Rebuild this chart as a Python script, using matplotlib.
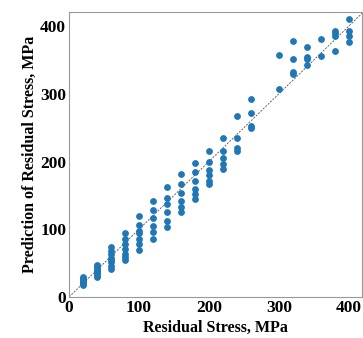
import matplotlib
matplotlib.use("Agg")
import matplotlib.pyplot as plt

actual = ([20] * 7 + [40] * 8 + [60] * 8 + [80] * 7 + [100] * 7 + [120] * 6
          + [140] * 6 + [160] * 6 + [180] * 6 + [200] * 6 + [220] * 5
          + [240] * 4 + [260] * 4 + [300] * 2 + [320] * 4 + [340] * 4
          + [360] * 2 + [380] * 4 + [400] * 4)
predicted = [18, 20, 22, 24, 26, 28, 30,
             30, 33, 36, 38, 40, 43, 46, 48,
             42, 46, 51, 55, 58, 63, 68, 74,
             54, 59, 64, 71, 79, 85, 95,
             70, 78, 85, 95, 97, 107, 120,
             86, 96, 105, 116, 129, 142,
             104, 113, 125, 137, 146, 162,
             125, 133, 142, 154, 167, 182,
             145, 152, 160, 172, 184, 198,
             167, 172, 180, 188, 200, 216,
             189, 197, 205, 216, 235,
             216, 220, 235, 267,
             250, 252, 272, 292,
             307, 357,
             330, 332, 352, 378,
             343, 352, 354, 369,
             356, 381,
             363, 386, 390, 393,
             376, 386, 393, 411]
ticks = [0, 100, 200, 300, 400]

plt.rcParams['font.family'] = ['Liberation Serif', 'DejaVu Serif']

fig = plt.figure(figsize=(3.63, 3.38), dpi=100)
ax = fig.add_axes([69 / 363, 41 / 338, 293 / 363, 285 / 338])

ax.plot([0, 420], [0, 420], linestyle='--', color='#555555', linewidth=0.6, dashes=(2.5, 1.5))
ax.scatter(actual, predicted, s=15, color='#1f77b4', zorder=3)

ax.set_xlim(0, 419)
ax.set_ylim(0, 421)
ax.set_xticks(ticks)
ax.set_yticks(ticks)
ax.tick_params(length=0, pad=2, labelsize=12.5)
for lab in ax.get_xticklabels() + ax.get_yticklabels():
    lab.set_fontweight('bold')
for sp in ax.spines.values():
    sp.set_color('#999999')

ax.set_xlabel('Residual Stress, MPa', fontsize=11.5, fontweight='bold', labelpad=3)
ax.set_ylabel('Prediction of Residual Stress, MPa', fontsize=11.5, fontweight='bold', labelpad=2)

fig.savefig('out.png', dpi=100)
